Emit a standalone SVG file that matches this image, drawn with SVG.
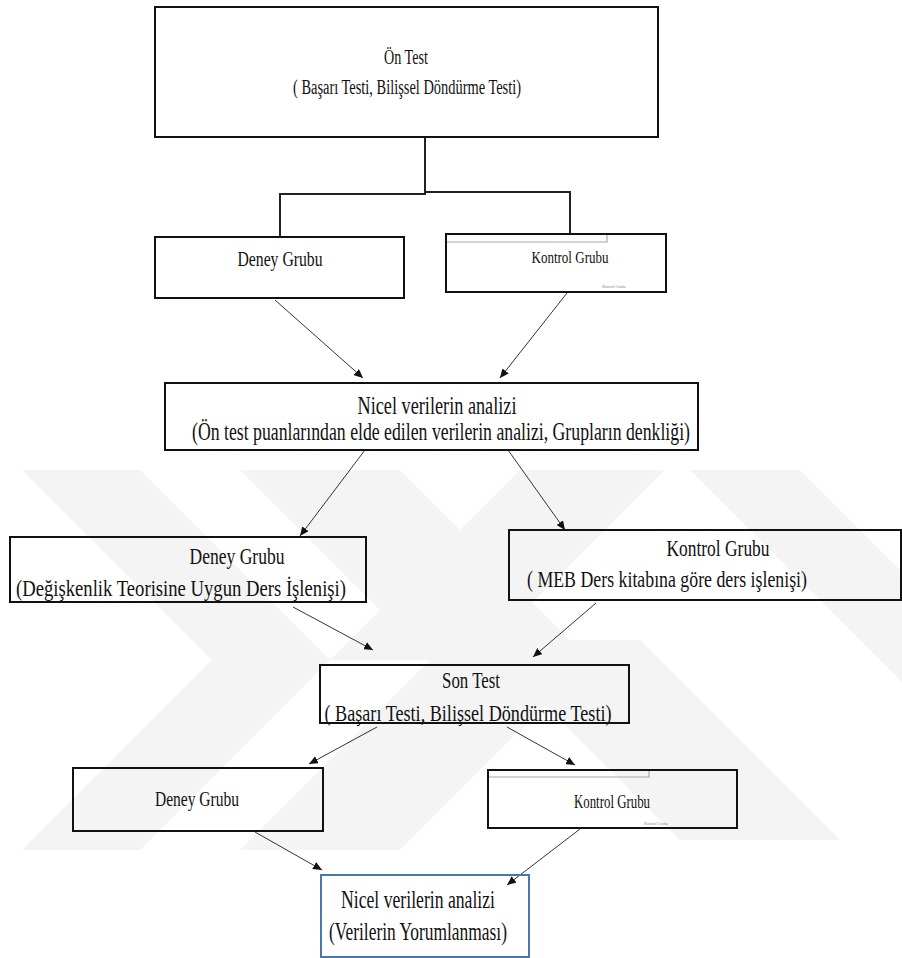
<svg xmlns="http://www.w3.org/2000/svg" width="902" height="958" viewBox="0 0 902 958">
  <style>
    .box { fill: none; stroke: #111; stroke-width: 2; }
    .box-blue { fill: none; stroke: #4a78ab; stroke-width: 2; }
    .inner { fill: none; stroke: #a8a8a8; stroke-width: 1.2; }
    .tree { fill: none; stroke: #222; stroke-width: 2; }
    .arrow { fill: none; stroke: #333; stroke-width: 1; marker-end: url(#head); }
    .t { font-family: 'Liberation Serif', 'Times New Roman', 'DejaVu Serif', serif; fill: #111; }
    .tiny { font-family: 'Liberation Serif', 'Times New Roman', 'DejaVu Serif', serif; fill: #8a8a8a; font-size: 4px; }
    .wm { fill: #f4f4f4; }
  </style>
  <defs>
    <marker id="head" markerUnits="userSpaceOnUse" markerWidth="10" markerHeight="8" refX="9" refY="4" orient="auto">
      <path d="M0,0 L9,4 L0,8 Z" fill="#111"/>
    </marker>
  </defs>

  <rect width="902" height="958" fill="#ffffff"/>

  <!-- background emblem -->
  <g id="emblem">
    <polygon class="wm" points="22,470 140,470 330,660 140,850 22,850 212,660"/>
    <polygon class="wm" points="240,470 400,470 590,660 400,850 240,850 430,660"/>
    <polygon class="wm" points="520,470 665,470 475,660 330,660"/>
    <polygon class="wm" points="690,470 800,470 902,572 902,682"/>
    <polygon class="wm" points="480,640 640,640 840,840 680,840"/>
  </g>

  <!-- connectors -->
  <g id="connectors">
    <path class="tree" d="M425,137 V194 H280 V237"/>
    <path class="tree" d="M425,192 H570 V234"/>
    <line class="arrow" x1="275" y1="300" x2="363" y2="378"/>
    <line class="arrow" x1="567" y1="293" x2="500" y2="378"/>
    <line class="arrow" x1="365" y1="450" x2="300" y2="536"/>
    <line class="arrow" x1="508" y1="450" x2="565" y2="530"/>
    <line class="arrow" x1="293" y1="607" x2="373" y2="650"/>
    <line class="arrow" x1="596" y1="603" x2="533" y2="657"/>
    <line class="arrow" x1="377" y1="727" x2="309" y2="764"/>
    <line class="arrow" x1="507" y1="727" x2="575" y2="765"/>
    <line class="arrow" x1="255" y1="832" x2="322" y2="870"/>
    <line class="arrow" x1="580" y1="829" x2="507" y2="885"/>
  </g>

  <!-- pre-test -->
  <g id="on-test">
    <rect class="box" x="155" y="7" width="503" height="130"/>
    <text class="t" x="406" y="64" font-size="20" text-anchor="middle" textLength="44" lengthAdjust="spacingAndGlyphs">Ön Test</text>
    <text class="t" x="407" y="94" font-size="20" text-anchor="middle" textLength="228" lengthAdjust="spacingAndGlyphs">( Başarı Testi, Bilişsel  Döndürme Testi)</text>
  </g>

  <g id="deney-1">
    <rect class="box" x="155" y="237" width="249" height="61"/>
    <text class="t" x="280" y="266" font-size="20" text-anchor="middle" textLength="85" lengthAdjust="spacingAndGlyphs">Deney Grubu</text>
  </g>

  <g id="kontrol-1">
    <rect class="box" x="446" y="234" width="220" height="58"/>
    <path class="inner" d="M447,242 H607 V235"/>
    <text class="t" x="570" y="263" font-size="16" text-anchor="middle" textLength="77" lengthAdjust="spacingAndGlyphs">Kontrol Grubu</text>
    <text class="tiny" x="614" y="288" text-anchor="middle">Kontrol Grubu</text>
  </g>

  <g id="nicel-1">
    <rect class="box" x="165" y="383" width="533" height="67"/>
    <text class="t" x="437" y="414" font-size="25" text-anchor="middle" textLength="159" lengthAdjust="spacingAndGlyphs">Nicel verilerin analizi</text>
    <text class="t" x="441" y="440" font-size="25" text-anchor="middle" textLength="498" lengthAdjust="spacingAndGlyphs">(Ön test puanlarından  elde edilen verilerin analizi, Grupların  denkliği)</text>
  </g>

  <g id="deney-2">
    <rect class="box" x="10" y="537" width="356" height="65"/>
    <text class="t" x="237" y="564" font-size="24" text-anchor="middle" textLength="95" lengthAdjust="spacingAndGlyphs">Deney Grubu</text>
    <text class="t" x="181" y="596" font-size="24" text-anchor="middle" textLength="330" lengthAdjust="spacingAndGlyphs">(Değişkenlik  Teorisine Uygun  Ders İşlenişi)</text>
  </g>

  <g id="kontrol-2">
    <rect class="box" x="509" y="530" width="392" height="70"/>
    <text class="t" x="718" y="556" font-size="23" text-anchor="middle" textLength="103" lengthAdjust="spacingAndGlyphs">Kontrol  Grubu</text>
    <text class="t" x="667" y="587" font-size="23" text-anchor="middle" textLength="280" lengthAdjust="spacingAndGlyphs">( MEB Ders kitabına  göre  ders  işlenişi)</text>
  </g>

  <g id="son-test">
    <rect class="box" x="320" y="665" width="309" height="58"/>
    <text class="t" x="471" y="688" font-size="23" text-anchor="middle" textLength="58" lengthAdjust="spacingAndGlyphs">Son Test</text>
    <text class="t" x="468" y="721" font-size="23" text-anchor="middle" textLength="287" lengthAdjust="spacingAndGlyphs">( Başarı Testi, Bilişsel Döndürme  Testi)</text>
  </g>

  <g id="deney-3">
    <rect class="box" x="73" y="768" width="250" height="63"/>
    <text class="t" x="197" y="806" font-size="21" text-anchor="middle" textLength="84" lengthAdjust="spacingAndGlyphs">Deney Grubu</text>
  </g>

  <g id="kontrol-3">
    <rect class="box" x="488" y="770" width="249" height="58"/>
    <path class="inner" d="M489,777 H649 V771"/>
    <text class="t" x="612" y="808" font-size="18" text-anchor="middle" textLength="76" lengthAdjust="spacingAndGlyphs">Kontrol Grubu</text>
    <text class="tiny" x="656" y="825" text-anchor="middle">Kontrol Grubu</text>
  </g>

  <g id="nicel-2">
    <rect class="box-blue" x="321" y="875" width="208" height="82"/>
    <text class="t" x="418" y="908" font-size="25" text-anchor="middle" textLength="154" lengthAdjust="spacingAndGlyphs">Nicel verilerin analizi</text>
    <text class="t" x="418" y="940" font-size="25" text-anchor="middle" textLength="178" lengthAdjust="spacingAndGlyphs">(Verilerin Yorumlanması)</text>
  </g>
</svg>
